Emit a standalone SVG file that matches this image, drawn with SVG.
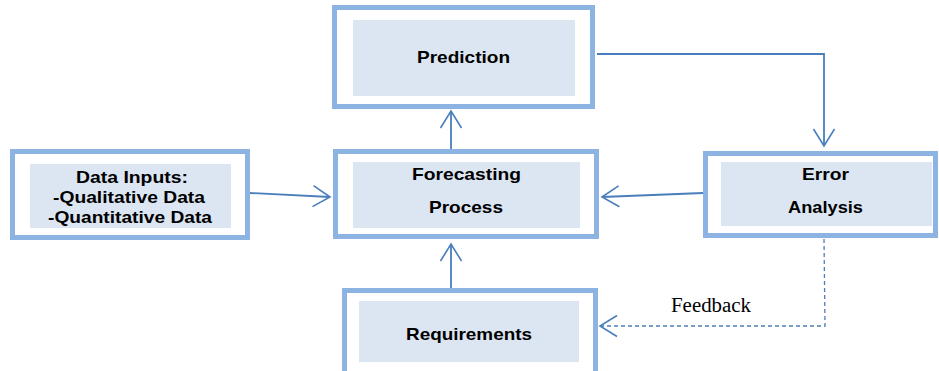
<svg xmlns="http://www.w3.org/2000/svg" width="939" height="371" viewBox="0 0 939 371">
<style>
.outer{fill:#ffffff;stroke:#8DB3E2;stroke-width:5}
.inner{fill:#DCE6F2;stroke:none}
.lbl{font-family:"Liberation Sans",Arial,sans-serif;font-weight:bold;font-size:17px;fill:#000;text-anchor:middle}
.conn{fill:none;stroke:#4A7EBB;stroke-width:1.8}
.dash{fill:none;stroke:#4A7EBB;stroke-width:1.3;stroke-dasharray:4 3}
.fb{font-family:"Liberation Serif","Times New Roman",serif;font-size:20px;fill:#000;text-anchor:middle}
</style>
<defs>
<marker id="arr" markerUnits="userSpaceOnUse" markerWidth="22" markerHeight="26" refX="18" refY="12" orient="auto" viewBox="0 0 22 26">
<path d="M1,1.5 L18,12 L1,22.5" fill="none" stroke="#4A7EBB" stroke-width="1.6"/>
</marker>
</defs>
<g id="prediction">
<rect class="outer" x="334.5" y="7.5" width="258" height="99"/>
<rect class="inner" x="353" y="20" width="222" height="76"/>
<text class="lbl" x="463.5" y="63" textLength="93" lengthAdjust="spacingAndGlyphs">Prediction</text>
</g>
<g id="data-inputs">
<rect class="outer" x="12.5" y="151.5" width="235" height="86"/>
<rect class="inner" x="30" y="164" width="201" height="64"/>
<text class="lbl" x="132" y="183" textLength="112" lengthAdjust="spacingAndGlyphs">Data Inputs:</text>
<text class="lbl" x="129" y="203" textLength="152" lengthAdjust="spacingAndGlyphs">-Qualitative Data</text>
<text class="lbl" x="130" y="223" textLength="164" lengthAdjust="spacingAndGlyphs">-Quantitative Data</text>
</g>
<g id="forecasting">
<rect class="outer" x="335.5" y="151.5" width="261" height="85"/>
<rect class="inner" x="353" y="162" width="227" height="66"/>
<text class="lbl" x="466.5" y="180" textLength="109" lengthAdjust="spacingAndGlyphs">Forecasting</text>
<text class="lbl" x="466" y="213" textLength="74" lengthAdjust="spacingAndGlyphs">Process</text>
</g>
<g id="error-analysis">
<rect class="outer" x="705.5" y="153.5" width="230" height="82"/>
<rect class="inner" x="721" y="162" width="211" height="64"/>
<text class="lbl" x="825.5" y="180" textLength="47" lengthAdjust="spacingAndGlyphs">Error</text>
<text class="lbl" x="825.5" y="213" textLength="75" lengthAdjust="spacingAndGlyphs">Analysis</text>
</g>
<g id="requirements">
<rect class="outer" x="344.5" y="290.5" width="251" height="100"/>
<rect class="inner" x="359" y="301" width="220" height="61"/>
<text class="lbl" x="469" y="340" textLength="126" lengthAdjust="spacingAndGlyphs">Requirements</text>
</g>
<g id="connectors">
<path class="conn" d="M250,193 L330,197" marker-end="url(#arr)"/>
<path class="conn" d="M703,193 L602,197" marker-end="url(#arr)"/>
<path class="conn" d="M451,149 L451,111" marker-end="url(#arr)"/>
<path class="conn" d="M451,288 L451,244" marker-end="url(#arr)"/>
<path class="conn" d="M597,54 L824,54 L824,146" marker-end="url(#arr)"/>
<path class="dash" d="M824,239 L825,326 L600,326" marker-end="url(#arr)"/>
<text class="fb" x="711" y="312" textLength="80" lengthAdjust="spacingAndGlyphs">Feedback</text>
</g>
</svg>
